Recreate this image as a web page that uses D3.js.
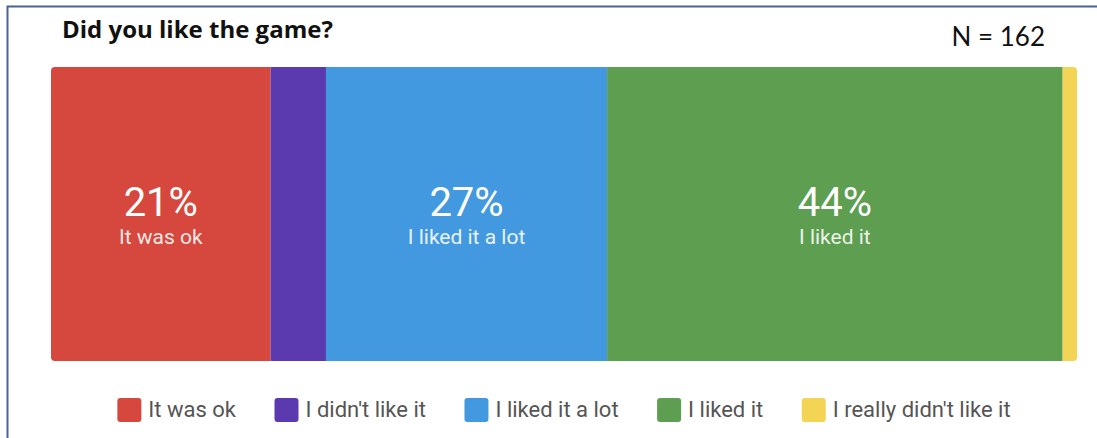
<html>
<head>
    <meta charset="utf-8"/>
    <script src="https://d3js.org/d3.v7.min.js"></script>
</head>
<style>
    body { margin: 0; background: #fff; }
    svg { display: block; }
</style>
<body>
<svg class="main" width="1097" height="438"></svg>
</body>
<script>
    // survey answers, in bar order
    var categories = ["It was ok", "I didn't like it", "I liked it a lot", "I liked it", "I really didn't like it"]
    var shares = [21.4, 5.4, 27.4, 44.4, 1.4]
    var colors = ["#d6473d", "#5a3aae", "#4399e0", "#5d9e50", "#f4d454"]
    var title = "Did you like the game?"
    var nLabel = "N = 162"

    var svg = d3.select("svg.main")

    // frame (top + left edge)
    svg.append("path")
        .attr("d", "M7.5,438 V6.5 H1097")
        .attr("fill", "none")
        .attr("stroke", "#4a6396")
        .attr("stroke-width", 2)

    svg.append("text")
        .attr("x", 62).attr("y", 38)
        .style("font-family", "'Open Sans', sans-serif")
        .style("font-weight", 700)
        .style("font-size", "24px")
        .attr("fill", "#111")
        .text(title)

    svg.append("text")
        .attr("x", 1045).attr("y", 46)
        .attr("text-anchor", "end")
        .style("font-family", "Lato, 'Open Sans', sans-serif")
        .style("font-size", "26px")
        .attr("fill", "#111")
        .text(nLabel)

    var barTop = 67, barBottom = 361
    var x = d3.scaleLinear().domain([0, d3.sum(shares)]).range([51, 1077])

    var stacked = []
    var acc = 0
    shares.forEach(function (v, i) {
        stacked.push({cat: categories[i], value: v, x0: acc, x1: acc + v, color: colors[i]})
        acc += v
    })

    svg.append("clipPath").attr("id", "barclip")
        .append("rect")
        .attr("x", x(0)).attr("y", barTop)
        .attr("width", x(acc) - x(0)).attr("height", barBottom - barTop)
        .attr("rx", 4)

    var seg = svg.append("g").attr("clip-path", "url(#barclip)")
        .selectAll("g.seg")
        .data(stacked)
        .enter()
        .append("g")
        .attr("class", "seg")

    seg.append("rect")
        .attr("x", function (d) { return x(d.x0) })
        .attr("y", barTop)
        .attr("width", function (d) { return x(d.x1) - x(d.x0) })
        .attr("height", barBottom - barTop)
        .attr("fill", function (d) { return d.color })

    var big = seg.filter(function (d) { return d.value >= 10 })

    big.append("text")
        .attr("x", function (d) { return (x(d.x0) + x(d.x1)) / 2 })
        .attr("y", 216)
        .attr("text-anchor", "middle")
        .style("font-family", "Roboto, sans-serif")
        .style("font-size", "40px")
        .attr("fill", "#fff")
        .text(function (d) { return Math.round(d.value) + "%" })

    big.append("text")
        .attr("x", function (d) { return (x(d.x0) + x(d.x1)) / 2 })
        .attr("y", 244)
        .attr("text-anchor", "middle")
        .style("font-family", "Roboto, sans-serif")
        .style("font-size", "21px")
        .attr("fill", "#fff")
        .attr("fill-opacity", 0.9)
        .text(function (d) { return d.cat })

    // legend, centred under the bar
    var legend = svg.append("g")
    var item = legend.selectAll("g.item")
        .data(stacked)
        .enter()
        .append("g")
        .attr("class", "item")

    item.append("rect")
        .attr("y", 398).attr("width", 24).attr("height", 24).attr("rx", 3)
        .attr("fill", function (d) { return d.color })

    item.append("text")
        .attr("x", 31).attr("y", 417)
        .style("font-family", "Roboto, sans-serif")
        .style("font-size", "22px")
        .attr("fill", "#555")
        .text(function (d) { return d.cat })

    var gap = 38.5
    var pos = 0
    item.each(function () {
        var w = 31 + d3.select(this).select("text").node().getComputedTextLength()
        d3.select(this).attr("transform", "translate(" + pos + ",0)")
        pos += w + gap
    })
    var total = pos - gap
    legend.attr("transform", "translate(" + ((x(0) + x(acc)) / 2 - total / 2) + ",0)")
</script>
</html>
